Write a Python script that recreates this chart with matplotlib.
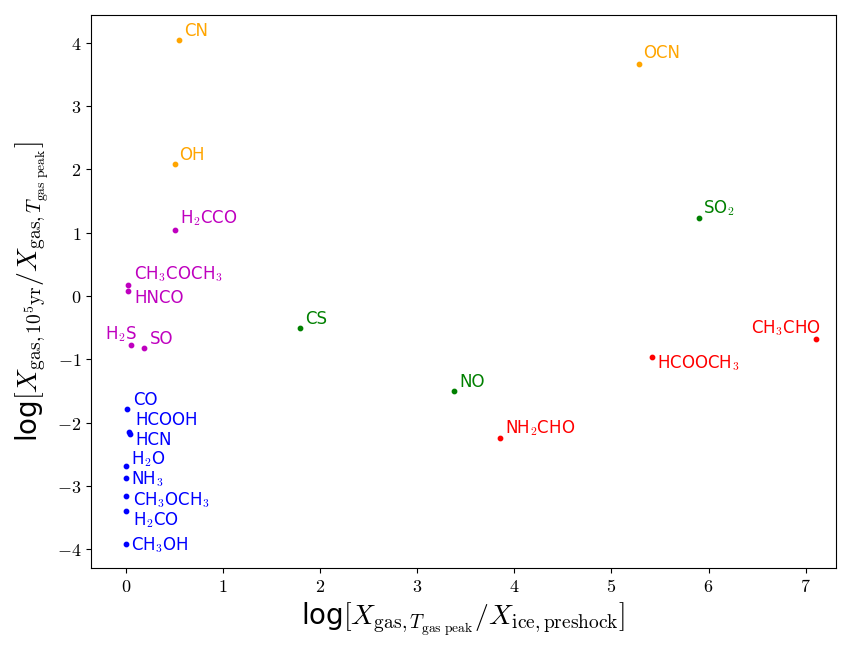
import matplotlib
matplotlib.use("Agg")
import matplotlib.pyplot as plt
from matplotlib.ticker import FuncFormatter

plt.rcParams["mathtext.fontset"] = "cm"
plt.rcParams["font.family"] = "DejaVu Sans"

# species, x = log[X_gas,Tpeak / X_ice], y = log[X_gas,1e5yr / X_gas,Tpeak]
names = ["CN", "OCN", "OH",
         "H$_2$CCO", "CH$_3$COCH$_3$", "HNCO", "H$_2$S", "SO",
         "SO$_2$", "CS", "NO",
         "CH$_3$CHO", "HCOOCH$_3$", "NH$_2$CHO",
         "CO", "HCOOH", "HCN", "H$_2$O", "NH$_3$", "CH$_3$OCH$_3$", "H$_2$CO", "CH$_3$OH"]
xvals = [0.55, 5.28, 0.50,
         0.50, 0.02, 0.02, 0.05, 0.19,
         5.90, 1.79, 3.38,
         7.11, 5.42, 3.85,
         0.01, 0.03, 0.04, 0.00, 0.00, 0.00, 0.00, 0.00]
yvals = [4.04, 3.67, 2.08,
         1.04, 0.17, 0.08, -0.77, -0.82,
         1.23, -0.51, -1.50,
         -0.68, -0.96, -2.24,
         -1.79, -2.15, -2.18, -2.69, -2.88, -3.16, -3.40, -3.92]
groups = ["orange"] * 3 + ["m"] * 5 + ["green"] * 3 + ["red"] * 3 + ["blue"] * 8

# label offsets in pixels (dx, dy, ha)
offsets = [(5, 9, "left"), (5, 11, "left"), (5, 9, "left"),
           (5, 12, "left"), (6, 11, "left"), (6, -7, "left"), (6, 11, "right"), (5, 9, "left"),
           (4, 10, "left"), (5, 9, "left"), (5, 9, "left"),
           (5, 11, "right"), (5, -6, "left"), (5, 10, "left"),
           (6, 9, "left"), (6, 12, "left"), (5, -6, "left"), (5, 7, "left"),
           (5, -1, "left"), (7, -4, "left"), (7, -9, "left"), (5, -1, "left")]

fig, ax = plt.subplots(figsize=(8.51, 6.53), dpi=100)
fig.subplots_adjust(left=0.107, right=0.982, top=0.977, bottom=0.13)

for n, x, y, c, (dx, dy, ha) in zip(names, xvals, yvals, groups, offsets):
    ax.scatter(x, y, s=10, color=c, zorder=3)
    ax.annotate(n, (x, y), xytext=(dx, dy), textcoords="offset pixels",
                color=c, fontsize=12, ha=ha, va="center")

ax.set_xlim(-0.36, 7.31)
ax.set_ylim(-4.30, 4.44)
ax.set_xticks(range(0, 8))
ax.set_yticks(range(-4, 5))
fmt = FuncFormatter(lambda v, p: r"$%d$" % round(v))
ax.xaxis.set_major_formatter(fmt)
ax.yaxis.set_major_formatter(fmt)
ax.tick_params(labelsize=13)

ax.set_xlabel(r"log$[X_{\rm gas,\it{T}_{\rm gas\ peak}}/X_{\rm ice,preshock}]$", fontsize=20)
ax.set_ylabel(r"log$[X_{\rm gas,10^5yr}/X_{\rm gas,\it{T}_{\rm gas\ peak}}]$", fontsize=20)

fig.savefig("out.png", dpi=100)
